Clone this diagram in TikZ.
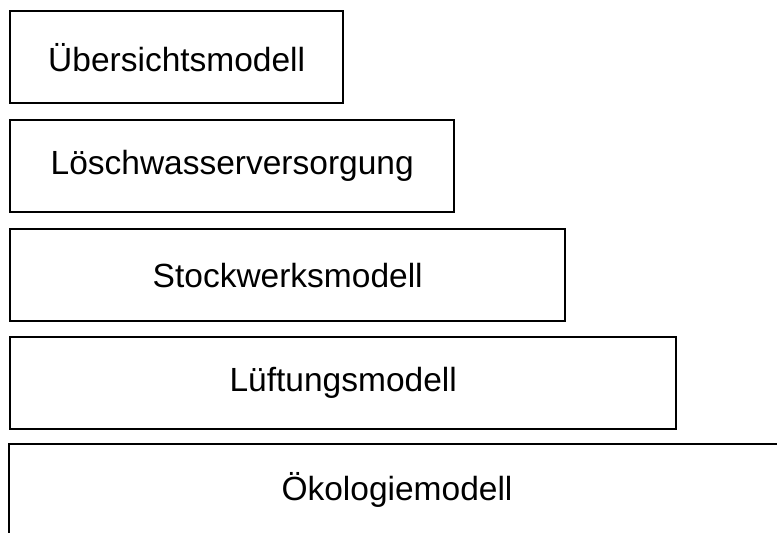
\documentclass[tikz,border=0pt]{standalone}
\usepackage{fontspec}
\setmainfont{Liberation Sans}
\begin{document}
\begin{tikzpicture}[x=1pt,y=-1pt,
  layer/.style={draw=black, line width=2.4pt, inner sep=0pt, anchor=north west,
    minimum height=92pt, font=\fontsize{33.5}{40}\selectfont},
  label/.style={inner sep=0pt, font=\fontsize{33.5}{40}\selectfont}]
  \useasboundingbox (0,0) rectangle (777,533);
  \node[layer, minimum width=333pt] (uebersicht) at (9,10) {Übersichtsmodell};
  \node[layer, minimum width=444pt] (loeschwasser) at (9,119) {Löschwasserversorgung};
  \node[layer, minimum width=555pt] (stockwerk) at (9,228) {Stockwerksmodell};
  \node[layer, minimum width=666pt] (lueftung) at (9,336) {Lüftungsmodell};
  % bottom layer runs past the right and lower edges
  \coordinate (oekoBL) at (9,540);
  \coordinate (oekoTL) at (9,444);
  \coordinate (oekoTR) at (790,444);
  \draw[line width=2.4pt] (oekoBL) -- (oekoTL) -- (oekoTR);
  \node[label] (oeko) at (397,490) {Ökologiemodell};
\end{tikzpicture}
\end{document}
